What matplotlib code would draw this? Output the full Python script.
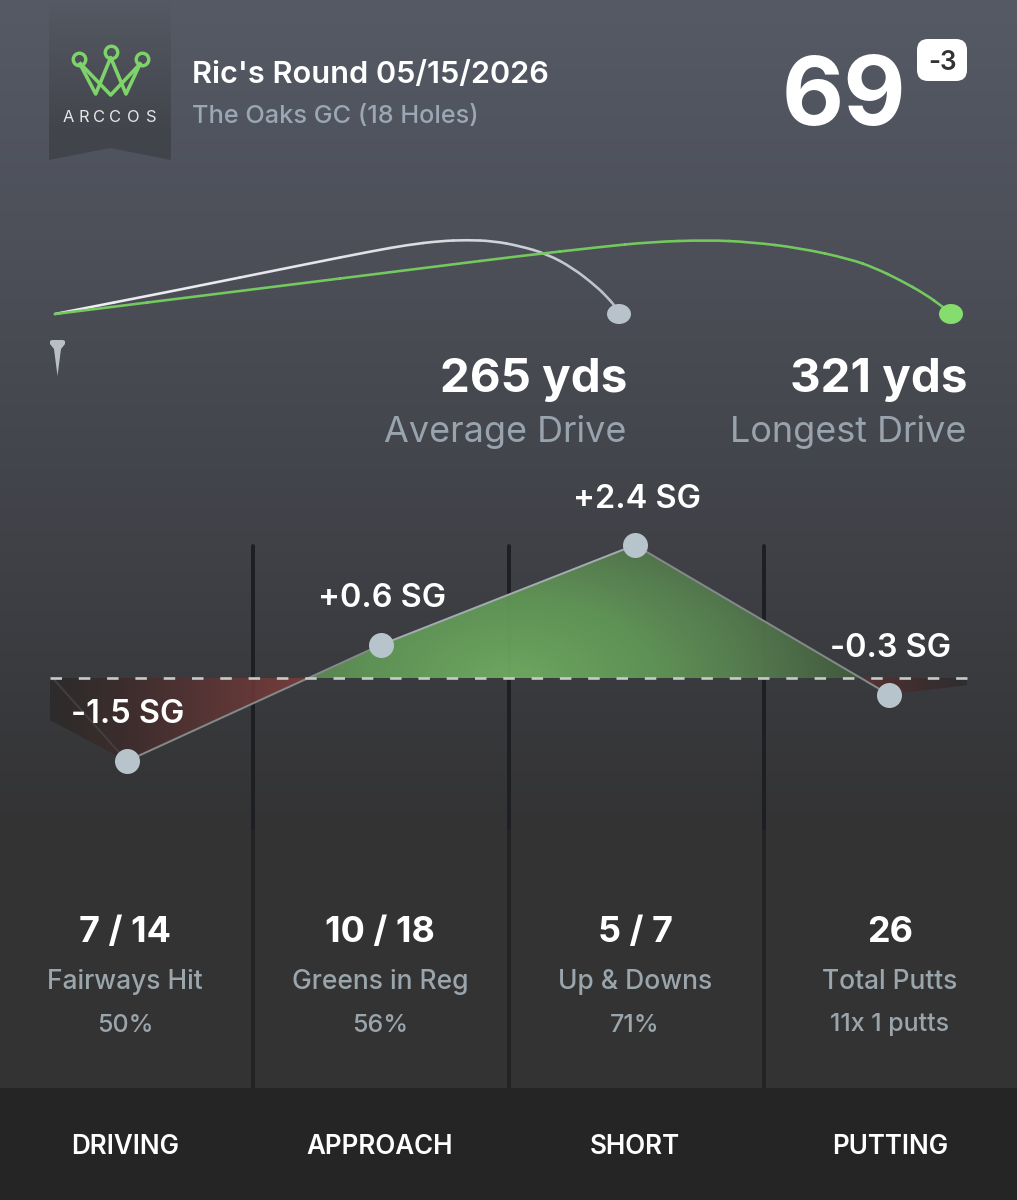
import numpy as np
import matplotlib
matplotlib.use("Agg")
import matplotlib.pyplot as plt
from matplotlib.patches import Ellipse, FancyBboxPatch, PathPatch, Polygon
from matplotlib.path import Path

plt.rcParams['font.family'] = ['Inter', 'DejaVu Sans']

# Data
title = "Ric's Round 05/15/2026"
course = "The Oaks GC (18 Holes)"
score = "69"
to_par = "-3"
categories = ["DRIVING", "APPROACH", "SHORT", "PUTTING"]
sg_values = [-1.5, 0.6, 2.4, -0.3]
sg_edges = [-0.76, -0.13]  # where the area runs out left and right of the points
stat_values = ["7 / 14", "10 / 18", "5 / 7", "26"]
stat_labels = ["Fairways Hit", "Greens in Reg", "Up & Downs", "Total Putts"]
stat_notes = ["50%", "56%", "71%", "11x 1 putts"]
drive_yds = ["265 yds", "321 yds"]
drive_labels = ["Average Drive", "Longest Drive"]
avg_x = [55, 173, 307, 373, 407, 440, 467, 493, 520, 547, 573, 597, 607, 615, 619]
avg_y = [314, 291, 264, 251, 245, 241, 240, 241, 246, 254, 268, 287, 297, 306, 314]
long_x = [55, 240, 440, 520, 600, 650, 707, 750, 800, 850, 875, 900, 925, 943, 951]
long_y = [314, 291, 266, 256, 247, 242, 240, 242, 248, 259, 268, 280, 294, 307, 314]

W, H = 1017, 1200
BASE_Y = 678   # pixel row of SG = 0
PX_PER_SG = 55.4
FIRST_X, STEP_X = 127, 254
EDGE_L, EDGE_R = 50, 967


def px(v):
    return v * 0.72


def curve_pieces(x, y):
    # quadratic pieces between midpoints, the read points act as control points
    p = np.column_stack([x, y]).astype(float)
    mids = (p[:-1] + p[1:]) / 2
    pieces = [Path([p[0], mids[0]], [Path.MOVETO, Path.LINETO])]
    for i in range(1, len(p) - 1):
        pieces.append(Path([mids[i - 1], p[i], mids[i]], [Path.MOVETO, Path.CURVE3, Path.CURVE3]))
    pieces.append(Path([mids[-1], p[-1]], [Path.MOVETO, Path.LINETO]))
    return pieces


fig = plt.figure(figsize=(W / 100, H / 100), dpi=100)
ax = fig.add_axes([0, 0, 1, 1], zorder=0)
ax.set_xlim(0, W)
ax.set_ylim(H, 0)
ax.axis('off')

# Background
stops_y = [0, 300, 530, 830, 1200]
stops_c = np.array([[85, 90, 101], [75, 77, 86], [64, 66, 72], [51, 51, 52], [51, 51, 51]]) / 255
rows = np.arange(H)
bg = np.stack([np.interp(rows, stops_y, stops_c[:, k]) for k in range(3)], axis=1)[:, None, :]
ax.imshow(bg, extent=(0, W, H, 0), aspect='auto', zorder=0)

# Banner
ban_c = np.array([[85, 89, 99], [66, 68, 75]]) / 255
ban_rows = np.linspace(0, 1, 160)
ban = np.stack([np.interp(ban_rows, [0, 0.85], ban_c[:, k]) for k in range(3)], axis=1)[:, None, :]
im = ax.imshow(ban, extent=(49, 171, 160, 0), aspect='auto', zorder=1)
banner = Polygon([(49, 0), (171, 0), (171, 160), (110, 148), (49, 160)], closed=True,
                 transform=ax.transData, facecolor='none', edgecolor='none')
ax.add_patch(banner)
im.set_clip_path(banner)
ax.set_xlim(0, W)
ax.set_ylim(H, 0)

# Crown
GREEN = '#7ed36a'
ax.plot([80.7, 110.7, 140], [64, 95, 64], color=GREEN, lw=px(3.6), zorder=2, solid_joinstyle='round')
ax.plot([80, 95.7, 110.7, 126, 140], [64, 94, 57.5, 94, 64], color=GREEN, lw=px(3.6), zorder=2,
        solid_joinstyle='round')
ax.plot([79, 111, 142], [59, 52, 59], ls='none', marker='o', ms=px(12.5), mfc='none', mec=GREEN,
        mew=px(3.4), zorder=3)
for ch, cx in zip("ARCCOS", [68, 83.5, 99.5, 115.5, 133, 151]):
    ax.text(cx, 117, ch, color='#e8e8e8', fontsize=px(16.5), ha='center', va='center', zorder=3)

# Header
ax.text(192, 75, title, color='white', fontsize=px(30.7), weight='semibold', ha='left', va='center')
ax.text(192, 116, course, color='#9aa7b4', fontsize=px(25.3), weight='medium', ha='left', va='center')
ax.text(844, 100, score, color='white', fontsize=px(96), weight='bold', ha='center', va='center')
ax.add_patch(FancyBboxPatch((917, 39), 50, 42, boxstyle='round,pad=0,rounding_size=11', facecolor='white',
                            edgecolor='none', lw=0))
ax.text(942, 63, to_par, color='#333333', fontsize=px(26), weight='semibold', ha='center', va='center', zorder=5)

# Drives
pieces = curve_pieces(avg_x, avg_y)
mix = np.linspace(0, 1, len(pieces))
for piece, m in zip(pieces, mix):
    c = [np.interp(m, [0, 0.55, 1], ch) / 255 for ch in [(238, 205, 178), (238, 208, 186), (243, 215, 194)]]
    ax.add_patch(PathPatch(piece, facecolor='none', edgecolor=c, lw=px(2.6), capstyle='round', zorder=3))
long_path = Path.make_compound_path(*curve_pieces(long_x, long_y))
ax.add_patch(PathPatch(long_path, facecolor='none', edgecolor='#74c95e', lw=px(2.6), capstyle='round', zorder=4))
ax.add_patch(Ellipse((619, 314), 24, 20, facecolor='#b8c2ca', edgecolor='none', zorder=5))
ax.add_patch(Ellipse((951, 314), 24, 20, facecolor='#85dd6e', edgecolor='none', zorder=5))
ax.add_patch(Polygon([(50, 341), (52, 340), (63, 340), (65, 341), (65, 344), (61, 349), (57.5, 376),
                      (54, 349), (50, 344)], closed=True, facecolor='#b8c0c6', edgecolor='none', zorder=3))
for xr, yds, lab in zip([627, 967], drive_yds, drive_labels):
    ax.text(xr, 380, yds, color='white', fontsize=px(47.5), weight='bold', ha='right', va='center')
    ax.text(xr - 1, 432, lab, color='#98a3ad', fontsize=px(36), ha='right', va='center')

# Column separators
for x in [253, 508.5, 764]:
    ax.plot([x, x], [546, 830], color='#1e1f22', lw=px(4), solid_capstyle='round', zorder=1)
    ax.plot([x, x], [830, 1090], color='#232323', lw=px(4), solid_capstyle='butt', zorder=1)

# Strokes gained chart, own scale on top of the pixel axes
sg = fig.add_axes([0, 0, 1, 1], zorder=1)
sg.set_xlim(-FIRST_X / STEP_X, (W - FIRST_X) / STEP_X)
sg.set_ylim((BASE_Y - H) / PX_PER_SG, BASE_Y / PX_PER_SG)
sg.axis('off')
sg.patch.set_alpha(0)

idx = np.arange(len(sg_values), dtype=float)
left = (EDGE_L - FIRST_X) / STEP_X
right = (EDGE_R - FIRST_X) / STEP_X
xs = np.concatenate([[left], idx, [right]])
ys = np.concatenate([[sg_edges[0]], sg_values, [sg_edges[1]]])
xlim, ylim = sg.get_xlim(), sg.get_ylim()


def grad_fill(mask, arr):
    poly = sg.fill_between(xs, ys, 0, where=mask, interpolate=True, facecolor='none', edgecolor='none')
    clip = Path.make_compound_path(*poly.get_paths())
    img = sg.imshow(arr, extent=(*xlim, *ylim), aspect='auto', zorder=2)
    img.set_clip_path(clip, sg.transData)


# Green glow, brightest low in the middle
gx, gy = np.meshgrid(np.arange(W), np.arange(H))
r = np.hypot((gx - 510) / 420, (gy - 680) / 240)
green_r = [0, 0.35, 0.6, 0.87, 1.0]
green_c = np.array([(112, 172, 98), (97, 150, 87), (85, 122, 78), (62, 85, 60), (58, 75, 55)]) / 255
glow = np.dstack([np.interp(r, green_r, green_c[:, k]) for k in range(3)] + [np.full(r.shape, 0.95)])
grad_fill(ys >= 0, glow)

red_x = [50, 127, 200, 310, 860, 900, 930, 967]
red_c = np.array([(44, 42, 42), (62, 44, 44), (88, 52, 52), (125, 62, 60), (90, 50, 50), (72, 46, 46),
                  (58, 44, 46), (46, 44, 46)]) / 255
columns = np.arange(W)
red = np.zeros((1, W, 4))
for k in range(3):
    red[0, :, k] = np.interp(columns, red_x, red_c[:, k])
red[0, :, 3] = 0.9
grad_fill(ys <= 0, red)
sg.set_xlim(xlim)
sg.set_ylim(ylim)

# Outline, one colour per segment because it fades towards the sides
sg.plot([left + 0.01, 0], [0, sg_values[0]], color='#443f3f', lw=px(2), zorder=3)
seg_colors = ['#84898a', '#a2abb0', '#84898a']
for i, c in enumerate(seg_colors):
    sg.plot(idx[i:i + 2], sg_values[i:i + 2], color=c, lw=px(2), zorder=3, solid_capstyle='round')

lw_dash = px(2.6)
sg.plot([left, right], [0, 0], color='#c8ccc8', lw=lw_dash, zorder=3, dash_capstyle='butt',
        linestyle=(0, (px(11.5) / lw_dash, px(16.8) / lw_dash)))
sg.plot(idx, sg_values, ls='none', marker='o', ms=px(25), mfc='#b8c4cc', mec='none', zorder=4)

label_offsets = [(1, 47), (1, 46), (2, 46), (2, 46)]
for i, v in enumerate(sg_values):
    off = label_offsets[i]
    sg.annotate(f"{v:+.1f} SG", (i, v), xytext=(px(off[0]), px(off[1])), textcoords='offset points',
                color='white', fontsize=px(32.5), weight='semibold', ha='center', va='center', zorder=5)

# Bottom stats
for i in range(4):
    cx = 125 + 255 * i
    ax.text(cx, 933, stat_values[i], color='white', fontsize=px(36), weight='bold', ha='center', va='center')
    ax.text(cx, 982, stat_labels[i], color='#9aa5ac', fontsize=px(26.4), weight='medium', ha='center', va='center')
    ax.text(cx, 1025, stat_notes[i], color='#9aa5ac', fontsize=px(25), weight='medium', ha='center', va='center')

# Tab bar
ax.fill_between([0, W], 1088, 1200, color='#252525', lw=0, zorder=2)
for i, name in enumerate(categories):
    ax.text(125 + 255 * i, 1147, name, color='white', fontsize=px(26), weight='semibold', ha='center', va='center',
            zorder=3)

fig.savefig('out.png', dpi=100)
